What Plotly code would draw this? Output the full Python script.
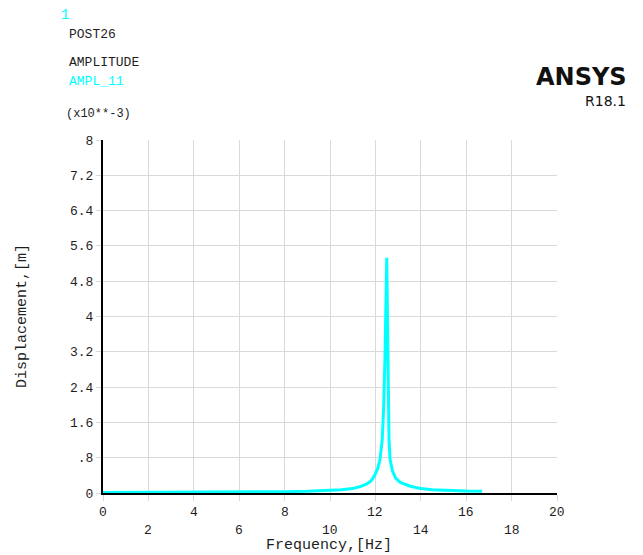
import plotly.graph_objects as go

# Data (amplitude in units of 1e-3 m)
freq_hz = [0, 2, 4, 6, 7, 8, 9, 10, 10.5, 11, 11.3, 11.6, 11.8, 11.95, 12.1, 12.2,
           12.3, 12.36, 12.42, 12.5, 12.55, 12.6, 12.65, 12.75, 12.9, 13.1, 13.5,
           14.0, 14.5, 15.0, 15.5, 16.0, 16.7]
ampl_e3 = [0.010, 0.011, 0.013, 0.017, 0.022, 0.030, 0.040, 0.060, 0.075, 0.10, 0.14,
           0.20, 0.27, 0.38, 0.55, 0.75, 1.2, 1.9, 3.0, 5.33, 2.7, 1.2, 0.75, 0.5,
           0.33, 0.24, 0.16, 0.10, 0.075, 0.06, 0.05, 0.045, 0.04]

y_ticks = [0, 0.8, 1.6, 2.4, 3.2, 4, 4.8, 5.6, 6.4, 7.2, 8]
y_tick_labels = ["0", ".8", "1.6", "2.4", "3.2", "4", "4.8", "5.6", "6.4", "7.2", "8"]
x_ticks = [0, 2, 4, 6, 8, 10, 12, 14, 16, 18, 20]
x_tick_labels = ["0", "2", "4", "6", "8", "10", "12", "14", "16", "18", "20"]

W, H = 643, 555
L, R, T, B = 103, 557, 140, 493

def px(xp):
    return (xp - L) / (R - L)

def py(yp):
    return (B - yp) / (B - T)

MONO = "Liberation Mono"
TXT = "#1e1e1e"
CYAN = "#00ffff"

fig = go.Figure()
fig.add_trace(go.Scatter(x=freq_hz, y=ampl_e3, mode="lines",
                         line=dict(color=CYAN, width=3), hoverinfo="skip"))

annotations = []
# staggered x tick labels
for i, (xv, lab) in enumerate(zip(x_ticks, x_tick_labels)):
    annotations.append(dict(x=xv, y=0, xref="x", yref="paper", text=lab,
                            showarrow=False, yshift=-19 if i % 2 == 0 else -37,
                            font=dict(family=MONO, size=13, color=TXT),
                            xanchor="center", yanchor="middle"))

def txt(x, y, s, size=13, color=TXT, family=MONO, xanchor="left", angle=0):
    annotations.append(dict(x=px(x), y=py(y), xref="paper", yref="paper", text=s,
                            showarrow=False, textangle=angle,
                            font=dict(family=family, size=size, color=color),
                            xanchor=xanchor, yanchor="middle"))

txt(59, 15, "1", size=14, color=CYAN)
txt(67, 34, "POST26")
txt(67, 62, "AMPLITUDE")
txt(67, 81, "AMPL_11", color=CYAN)
txt(64, 114, "(x10**-3)", size=12)
txt(629, 77, "<b>ANSYS</b>", size=24, family="DejaVu Sans", color="#111", xanchor="right")
txt(628, 101, "R18.1", size=14, family="DejaVu Sans", color="#111", xanchor="right")
txt(329, 545, "Frequency,[Hz]", size=15, xanchor="center")
txt(22, 316, "Displacement,[m]", size=15, xanchor="center", angle=-90)

fig.update_layout(
    width=W, height=H,
    margin=dict(l=L, r=W - R, t=T, b=H - B),
    paper_bgcolor="white", plot_bgcolor="white",
    showlegend=False,
    annotations=annotations,
    xaxis=dict(range=[0, 20], tickvals=x_ticks, showticklabels=False,
               showgrid=True, gridcolor="#d9d9d9", gridwidth=1,
               ticks="outside", ticklen=6, tickcolor="#d9d9d9",
               showline=True, linecolor="black", linewidth=2, zeroline=False),
    yaxis=dict(range=[0, 8], tickvals=y_ticks, ticktext=y_tick_labels,
               showgrid=True, gridcolor="#d9d9d9", gridwidth=1,
               ticks="outside", ticklen=5, tickcolor="#d9d9d9",
               tickfont=dict(family=MONO, size=13, color=TXT),
               showline=True, linecolor="black", linewidth=2, zeroline=False),
)

fig.write_html("out.html")
